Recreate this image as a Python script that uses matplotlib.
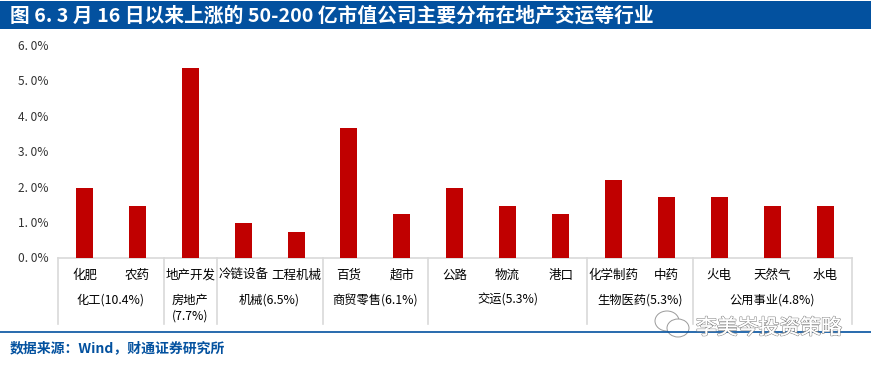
import matplotlib
matplotlib.use('Agg')
import matplotlib.pyplot as plt
import matplotlib.patches as patches
import matplotlib.patheffects as pe
import numpy as np

plt.rcParams['font.family'] = ['Noto Sans CJK SC', 'DejaVu Sans']

categories = ['化肥', '农药', '地产开发', '冷链设备', '工程机械', '百货', '超市', '公路', '物流', '港口',
              '化学制药', '中药', '火电', '天然气', '水电']
values = [1.95, 1.46, 5.35, 0.97, 0.73, 3.65, 1.22, 1.95, 1.46, 1.22, 2.19, 1.70, 1.70, 1.46, 1.46]
groups = ['化工(10.4%)', '房地产\n(7.7%)', '机械(6.5%)', '商贸零售(6.1%)', '交运(5.3%)', '生物医药(5.3%)', '公用事业(4.8%)']
group_sizes = [2, 1, 2, 2, 3, 2, 3]
yticks = [0, 1, 2, 3, 4, 5, 6]

W, H = 871, 365
BLUE = '#03519f'
GRIS = '#d9d9d9'

fig = plt.figure(figsize=(W/100, H/100), dpi=100)
ax = fig.add_axes([58/W, 1-257.5/H, (851.5-58)/W, 212.5/H])

x = np.arange(len(values))
ax.bar(x, values, width=0.32, color='#c00000', zorder=3)
ax.set_xlim(-0.5, len(values)-0.5)
ax.set_ylim(0, 6)
ax.set_yticks(yticks)
ax.set_yticklabels(['%d. 0%%' % t for t in yticks], fontsize=8.6, color='#333333')
ax.tick_params(axis='y', length=0, pad=7)
ax.set_xticks(x)
ax.set_xticklabels(categories, fontsize=9, color='black')
ax.tick_params(axis='x', length=0, pad=8)
for s in ['top', 'right', 'left']:
	ax.spines[s].set_visible(False)
ax.spines['bottom'].set_color(GRIS)
ax.spines['bottom'].set_linewidth(1.2)

# separadores y nombres de grupo bajo el eje
trans = ax.get_xaxis_transform()
bordes = np.concatenate([[0], np.cumsum(group_sizes)]) - 0.5
for b in bordes:
	ax.plot([b, b], [0, -66/212.5], transform=trans, color=GRIS, lw=1.2, clip_on=False)
for i, g in enumerate(groups):
	centro = (bordes[i] + bordes[i+1]) / 2
	ax.text(centro, -36/212.5, g, transform=trans, ha='center', va='top', fontsize=8.8,
			linespacing=1.3, color='black')

# cabecera
fig.add_artist(patches.Rectangle((0, 1-29/H), 1, 28/H, transform=fig.transFigure, facecolor=BLUE, edgecolor='none'))
fig.text(10/W, 1-15.5/H, '图 6. 3 月 16 日以来上涨的 50-200 亿市值公司主要分布在地产交运等行业',
		 color='white', fontsize=14.2, fontweight='bold', va='center', ha='left')

# pie
fig.add_artist(plt.Line2D([0, 1], [1-332/H, 1-332/H], color=BLUE, lw=1.2))
fig.text(10/W, 1-348/H, '数据来源\uff1aWind\uff0c财通证券研究所', color=BLUE, fontsize=10, fontweight='bold',
		 va='center', ha='left')

# marca de agua
for cx, cy, w, h in [(667, 321, 24, 20), (678, 328, 22, 18)]:
	fig.add_artist(patches.Ellipse((cx/W, 1-cy/H), w/W, h/H, transform=fig.transFigure,
								   facecolor='white', edgecolor='#9a9a9a', lw=0.7))
fig.text(696/W, 1-328/H, '李美岑投资策略', color='white', fontsize=15, va='center', ha='left',
		 path_effects=[pe.withStroke(linewidth=1.0, foreground='#8a8a8a'), pe.Normal()])

fig.savefig('out.png', dpi=100)
